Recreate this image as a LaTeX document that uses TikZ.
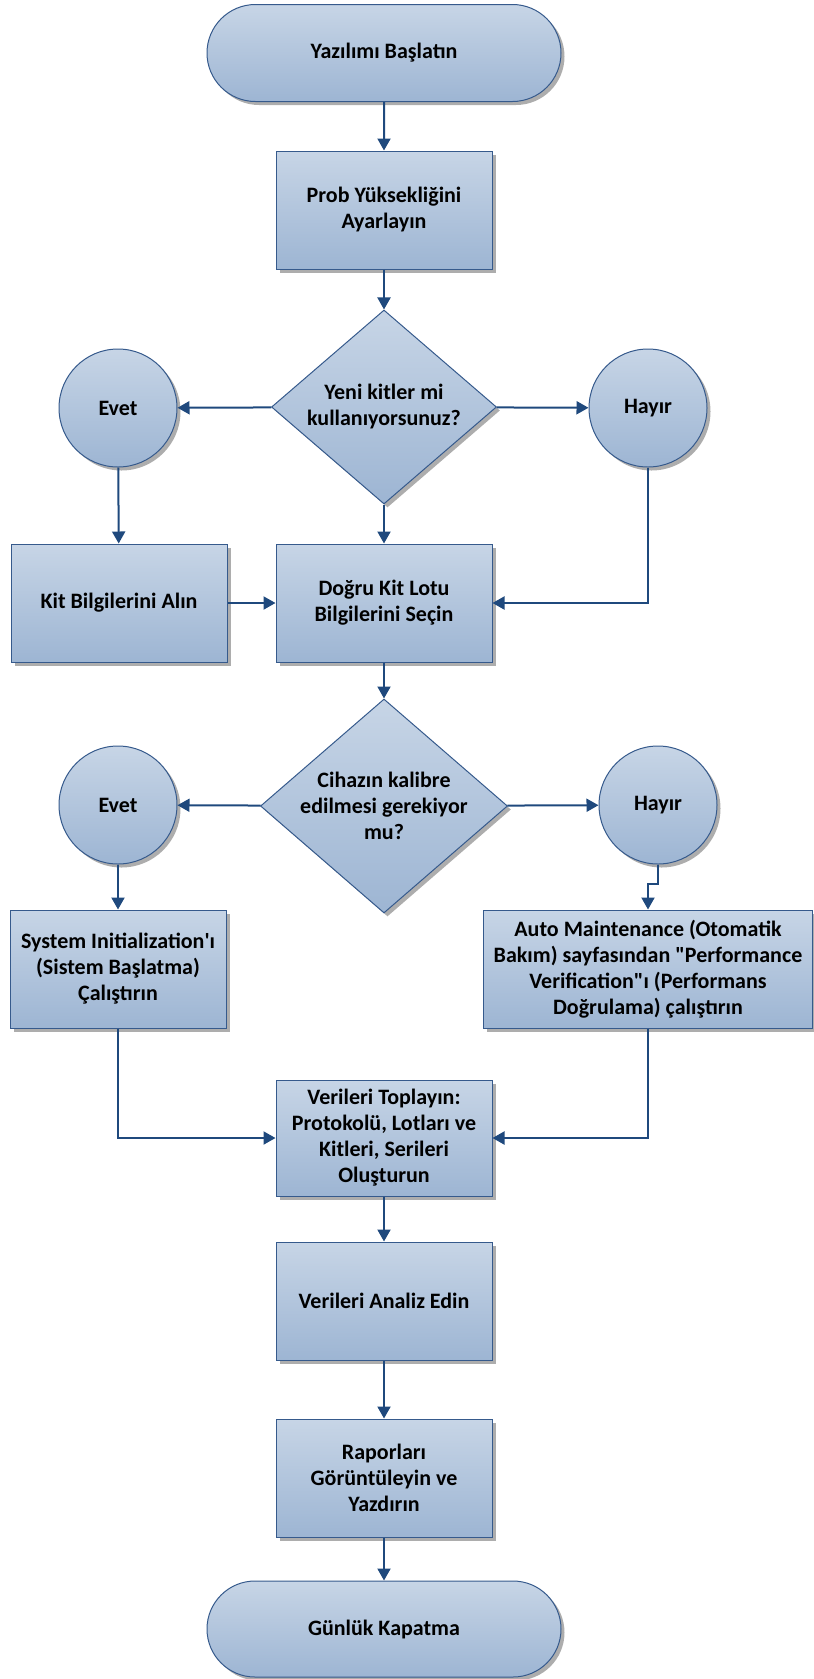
\documentclass[tikz,border=0pt]{standalone}
\usepackage{fontspec}
\setmainfont{Carlito}
\usepackage{tikz}
\usetikzlibrary{arrows.meta,shapes.geometric,shapes.misc,shadows}
\definecolor{boxtop}{RGB}{199,213,230}
\definecolor{boxbot}{RGB}{157,181,211}
\definecolor{edge}{RGB}{54,90,140}
\definecolor{flow}{RGB}{31,73,125}

\begin{document}
\begin{tikzpicture}[
  x=1pt, y=-1pt,
  font=\fontsize{22}{26}\selectfont\bfseries,
  base/.style={draw=edge, line width=1pt, top color=boxtop, bottom color=boxbot, align=center, inner sep=0pt,
    drop shadow={shadow xshift=3.5pt, shadow yshift=-3.5pt, fill=black!40, opacity=0.8}},
  terminal/.style={base, rounded rectangle, minimum width=354pt, minimum height=97pt},
  process/.style={base, rectangle, minimum width=216pt, minimum height=118pt},
  decision/.style={base, diamond, aspect=1.15},
  answer/.style={base, circle, minimum size=118pt},
  link/.style={draw=flow, line width=2pt, -{Triangle[length=12pt,width=13pt]}}
]
\useasboundingbox (0,0) rectangle (814,1679);

\node[terminal] (start) at (384,53) {Yazılımı Başlatın};
\node[process] (prob) at (384,210) {Prob Yüksekliğini\\Ayarlayın};
\node[decision, minimum width=225pt, minimum height=194pt] (q1) at (384,407) {Yeni kitler mi\\kullanıyorsunuz?};
\node[answer] (yes1) at (118,408) {Evet};
\node[answer] (no1) at (648,408) {Hayır};
\node[process] (kit) at (119,603) {Kit Bilgilerini Alın};
\node[process] (lot) at (384,603) {Doğru Kit Lotu\\Bilgilerini Seçin};
\node[decision, minimum width=247pt, minimum height=214pt] (q2) at (384,806) {Cihazın kalibre\\edilmesi gerekiyor\\mu?};
\node[answer] (yes2) at (118,805) {Evet};
\node[answer] (no2) at (658,805) {Hayır};
\node[process] (init) at (118,969) {System Initialization\textquotesingle ı\\(Sistem Başlatma)\\Çalıştırın};
\node[process, minimum width=329pt] (auto) at (648,969) {Auto Maintenance (Otomatik\\Bakım) sayfasından \textquotedbl Performance\\Verification\textquotedbl ı (Performans\\Doğrulama) çalıştırın};
\node[process, minimum height=116pt] (collect) at (384,1138) {Verileri Toplayın:\\Protokolü, Lotları ve\\Kitleri, Serileri\\Oluşturun};
\node[process] (analyze) at (384,1301) {Verileri Analiz Edin};
\node[process] (report) at (384,1478) {Raporları\\Görüntüleyin ve\\Yazdırın};
\node[terminal, minimum height=96pt] (finish) at (384,1629) {Günlük Kapatma};

% main column
\draw[link] (start) -- (prob);
\draw[link] (prob) -- (q1);
\draw[link] (q1) -- (yes1);
\draw[link] (q1) -- (no1);
\draw[link] (yes1) -- (kit);
\draw[link] (q1) -- (lot);
\draw[link] (kit) -- (lot);
\draw[link] (no1) |- (lot);
\draw[link] (lot) -- (q2);
\draw[link] (q2) -- (yes2);
\draw[link] (q2) -- (no2);
\draw[link] (yes2) -- (init);
\draw[link] (no2.south) -- ++(0,19) -| (auto.north);
\draw[link] (init) |- (collect);
\draw[link] (auto) |- (collect);
\draw[link] (collect) -- (analyze);
\draw[link] (analyze) -- (report);
\draw[link] (report) -- (finish);
\end{tikzpicture}
\end{document}
